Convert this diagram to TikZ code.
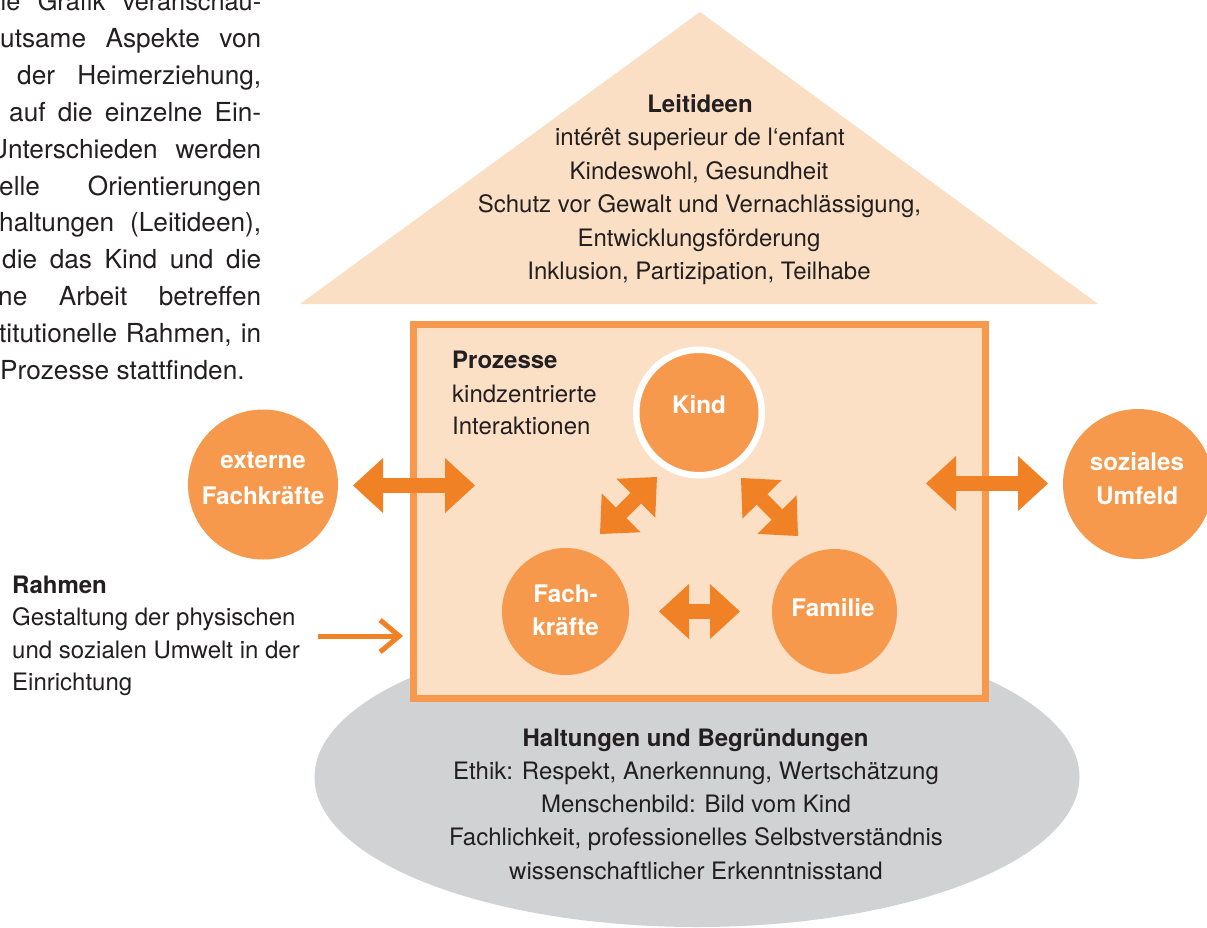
\documentclass[tikz,border=0pt]{standalone}
\usepackage{fontspec}
\setmainfont{TeX Gyre Heros}
\usetikzlibrary{arrows.meta,shapes.geometric}
\definecolor{corange}{HTML}{F6994D}
\definecolor{carrow}{HTML}{F08125}
\definecolor{cbox}{HTML}{FCE0C6}
\definecolor{croof}{HTML}{FBDFC5}
\definecolor{cborder}{HTML}{F6994D}
\definecolor{cgray}{HTML}{D1D2D4}
\definecolor{ctext}{HTML}{231F20}
\tikzset{
  txt/.style={font=\fontsize{24}{28}\selectfont, text=ctext, inner sep=0pt, anchor=base},
  ptxt/.style={font=\fontsize{26.2}{30}\selectfont, text=ctext, inner sep=0pt, anchor=base west},
  lbl/.style={font=\fontsize{24.2}{28}\selectfont\bfseries, text=white, inner sep=0pt, anchor=base},
  bubble/.style={circle, fill=corange, inner sep=0pt},
  bigarrow/.style={draw=carrow, line width=15pt,
     {Triangle[width=55pt,length=30pt,line width=0pt]}-{Triangle[width=55pt,length=30pt,line width=0pt]}},
  thinarrow/.style={draw=carrow, line width=5pt, -{Straight Barb[length=19pt,width=32pt]}}
}
\begin{document}
\begin{tikzpicture}[x=1pt,y=-1pt]
\useasboundingbox (0,0) rectangle (1207,927);
\clip (0,0) rectangle (1207,927);
\fill[white] (0,0) rectangle (1207,927);

% left paragraph (cut at the page edge)
\node[ptxt] (p1) at (0.5,10) {\makebox[260.5pt][s]{\fontsize{25.3}{30}\selectfont ie Grafik veranschau-}};
\node[ptxt] (p2) at (0,47) {\makebox[261pt][s]{utsame Aspekte von}};
\node[ptxt] (p3) at (17,84) {\makebox[244pt][s]{der Heimerziehung,}};
\node[ptxt] (p4) at (9,121) {\makebox[252pt][s]{auf die einzelne Ein-}};
\node[ptxt] (p5) at (-11,158) {\makebox[272pt][s]{Unterschieden werden}};
\node[ptxt] (p6) at (-1,195) {\makebox[262pt][s]{elle Orientierungen}};
\node[ptxt] (p7) at (-1,231.5) {\makebox[262pt][s]{haltungen (Leitideen),}};
\node[ptxt] (p8) at (2,268.5) {\makebox[259pt][s]{die das Kind und die}};
\node[ptxt] (p9) at (-2,305.5) {\makebox[263pt][s]{ne Arbeit betreffen}};
\node[ptxt] (p10) at (-1,342) {\makebox[262pt][s]{titutionelle Rahmen, in}};
\node[ptxt] (p11) at (0,379) {Prozesse stattfinden.};

% foundation ellipse
\node[ellipse, fill=cgray, inner sep=0pt, minimum width=765pt, minimum height=300pt] (halt) at (697,777) {};

% roof
\coordinate (apex) at (700,12);
\coordinate (roofl) at (300,304);
\coordinate (roofr) at (1098,304);
\fill[croof] (apex) -- (roofl) -- (roofr) -- cycle;

% house box
\node[draw=cborder, fill=cbox, line width=7pt, inner sep=0pt, minimum width=571.5pt, minimum height=374pt] (box) at (699.25,511.5) {};

% circles
\node[bubble, draw=white, line width=6.5pt, minimum size=125.5pt] (kind) at (699,412.5) {};
\node[bubble, minimum size=127pt] (fach) at (565.5,611.5) {};
\node[bubble, minimum size=125pt] (fam) at (834.5,611.5) {};
\node[bubble, minimum size=150pt] (ext) at (263,484.5) {};
\node[bubble, minimum size=150pt] (soz) at (1138,484) {};

\node[lbl] (kindt) at (699,413) {Kind};
\node[lbl] (facht1) at (565.5,602) {Fach-};
\node[lbl] (facht2) at (565.5,635) {kräfte};
\node[lbl] (famt) at (833,616) {Familie};
\node[lbl] (extt1) at (263,468) {externe};
\node[lbl] (extt2) at (263,504) {Fachkräfte};
\node[lbl] (sozt1) at (1137,470) {soziales};
\node[lbl] (sozt2) at (1137,504) {Umfeld};

% block arrows
\coordinate (ea) at (353,485.5);  \coordinate (eb) at (475,485.5);
\coordinate (sa) at (926,483.5);  \coordinate (sb) at (1048,483.5);
\coordinate (fa) at (659,611.5);  \coordinate (fb) at (740,611.5);
\coordinate (ka) at (600,534);    \coordinate (kb) at (657,477);
\coordinate (ma) at (741,478);    \coordinate (mb) at (798,536);
\draw[bigarrow] (ea) -- (eb);
\draw[bigarrow] (sa) -- (sb);
\draw[bigarrow] (fa) -- (fb);
\draw[bigarrow] (ka) -- (kb);
\draw[bigarrow] (ma) -- (mb);

% Rahmen arrow
\coordinate (ra) at (318,636);
\coordinate (rb) at (403,636);
\draw[thinarrow] (ra) -- (rb);

% Leitideen
\node[txt] (l0) at (700,112.7) {\bfseries Leitideen};
\node[txt] (l1) at (700,145.7) {intérêt superieur de l‘enfant};
\node[txt] (l2) at (699,179.5) {Kindeswohl, Gesundheit};
\node[txt] (l3) at (699.5,212.7) {Schutz vor Gewalt und Vernachlässigung,};
\node[txt] (l4) at (699,246.5) {Entwicklungsförderung};
\node[txt] (l5) at (699,279.3) {Inklusion, Partizipation, Teilhabe};

% Prozesse
\node[txt, anchor=base west] (pr0) at (452,368) {\bfseries Prozesse};
\node[txt, anchor=base west] (pr1) at (452,402) {kindzentrierte};
\node[txt, anchor=base west] (pr2) at (452,434.5) {Interaktionen};

% Rahmen
\node[txt, anchor=base west] (r0) at (12,593.3) {\bfseries Rahmen};
\node[txt, anchor=base west] (r1) at (12,625.5) {Gestaltung der physischen};
\node[txt, anchor=base west] (r2) at (12,658) {und sozialen Umwelt in der};
\node[txt, anchor=base west] (r3) at (12,690.5) {Einrichtung};

% Haltungen
\node[txt] (h0) at (695.5,746) {\bfseries Haltungen und Begründungen};
\node[txt] (h1) at (696,779) {Ethik: Respekt, Anerkennung, Wertschätzung};
\node[txt] (h2) at (696,812.5) {Menschenbild: Bild vom Kind};
\node[txt] (h3) at (696,845.5) {Fachlichkeit, professionelles Selbstverständnis};
\node[txt] (h4) at (696,879) {wissenschaftlicher Erkenntnisstand};
\end{tikzpicture}
\end{document}
